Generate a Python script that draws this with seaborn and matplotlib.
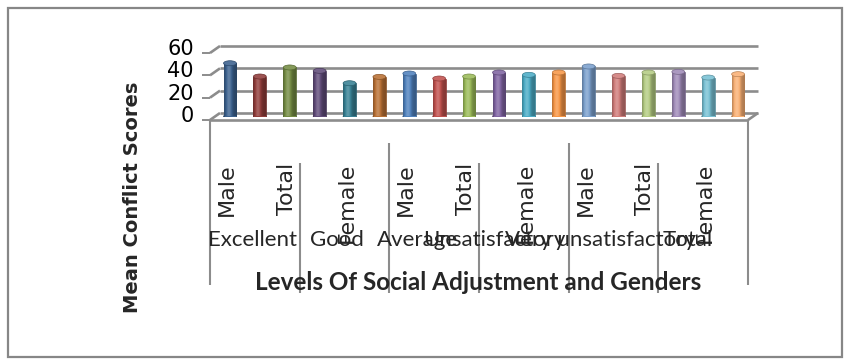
import numpy as np
import pandas as pd
import matplotlib
matplotlib.use("Agg")
import matplotlib.pyplot as plt
import matplotlib.colors as mcolors
import seaborn as sns
from matplotlib.lines import Line2D
from matplotlib.patches import Ellipse, Rectangle
from matplotlib.transforms import IdentityTransform

# ---- data -------------------------------------------------------------
levels = ["Excellent", "Good", "Average", "Unsatisfactory",
          "Very unsatisfactory", "Total"]
genders = ["Male", "Female", "Total"]
scores = [47.7, 35.8, 43.9,
          40.9, 29.8, 35.5,
          38.5, 34.0, 35.8,
          39.4, 37.3, 39.4,
          44.8, 36.4, 39.4,
          40.0, 34.9, 37.9]
y_ticks = [0, 20, 40, 60]
bar_colors = ["#3B618E", "#903C3A", "#748C43", "#604B79", "#388194", "#B97034",
              "#4F81BD", "#C0504D", "#9BBB59", "#8064A2", "#4BACC6", "#F79646",
              "#7BA0CD", "#D07C7A", "#B4CC83", "#A08BB9", "#78C1D4", "#F9B074"]

slots = [f"{lv} | {g}" for lv in levels for g in genders]
df = pd.DataFrame({"slot": slots, "score": scores})

# ---- figure -----------------------------------------------------------
sns.set_theme(style="white")
plt.rcParams["font.family"] = ["Lato", "DejaVu Sans"]
WIDE = ["DejaVu Sans"]

W, H = 854, 364
fig = plt.figure(figsize=(W / 100, H / 100), dpi=100)
fig.patch.set_facecolor("white")

# axes placed at the mid depth of the pseudo-3D box (pixel rows from top)
x_left, x_right = 215, 753
y_base, y_top = 116.5, 49.5
ax = fig.add_axes([x_left / W, (H - y_base) / H,
                   (x_right - x_left) / W, (y_base - y_top) / H])

sns.barplot(data=df, x="slot", y="score", hue="slot",
            palette=dict(zip(slots, bar_colors)), width=0.43,
            legend=False, ax=ax, saturation=1)
ax.set_axis_off()
n = len(slots)
ax.set_xlim(-0.5, n - 0.5)
ax.set_ylim(0, 60)

GRID = "#8C8C8C"
DX, DY = 5, 3.5          # half of the box depth, in pixels


def pt(x, v, k):
    """Display point for data (x, v) at depth k (-1 front, 0 mid, 1 back)."""
    X, Y = ax.transData.transform((x, v))
    return X + k * DX, Y + k * DY


def line(p, q, lw=1.9, color=GRID, z=-1):
    fig.add_artist(Line2D([p[0], q[0]], [p[1], q[1]], lw=lw, color=color,
                          transform=IdentityTransform(), zorder=z,
                          solid_capstyle="butt"))


def row(py):
    return H - py


# walls: gridlines on back wall, diagonals on side wall, y ticks in front
for v in y_ticks:
    line(pt(-0.5, v, 1), pt(n - 0.5, v, 1))
    line(pt(-0.5, v, -1), pt(-0.5, v, 1))
    fx, fyy = pt(-0.5, v, -1)
    line((fx - 8, fyy), (fx, fyy), lw=1.4)
    fig.text(fx - 16, fyy + 4, f"{v}", ha="right", va="center",
             fontsize=15, color="black", family=WIDE,
             transform=IdentityTransform())

# floor edges
line(pt(-0.5, 0, -1), pt(n - 0.5, 0, -1))
line(pt(n - 0.5, 0, -1), pt(n - 0.5, 0, 1))

# cylinders: shaded body, rounded bottom and elliptical cap
t = np.linspace(0, 1, 64)
prof = 0.70 + 0.55 * np.exp(-((t - 0.38) / 0.26) ** 2)


def tone(rgb, f):
    rgb = np.asarray(rgb[:3])
    if f <= 1:
        return rgb * f
    return rgb + (1 - rgb) * min(f - 1, 1) * 0.8


cap_h = 4.5
for p in list(ax.patches):
    base = mcolors.to_rgb(p.get_facecolor())
    x, w, h = p.get_x(), p.get_width(), p.get_height()
    xc = x + w / 2
    grad = np.array([[tone(base, f) for f in prof]])
    p.set_edgecolor(tone(base, 0.7))
    p.set_linewidth(0.5)
    ax.add_patch(Ellipse((xc, 0), w, cap_h, facecolor=tone(base, 0.85),
                         edgecolor=tone(base, 0.7), lw=0.5,
                         zorder=p.get_zorder() - 0.1))
    im = ax.imshow(grad, extent=[x, x + w, 0, h], aspect="auto",
                   interpolation="bilinear", zorder=p.get_zorder() + 0.1)
    im.set_clip_path(p)
    ax.add_patch(Ellipse((xc, h), w, cap_h, facecolor=tone(base, 1.15),
                         edgecolor=tone(base, 0.75), lw=0.5,
                         zorder=p.get_zorder() + 0.2))
ax.set_xlim(-0.5, n - 0.5)
ax.set_ylim(0, 60)

# category axis: group separators, inner and outer labels
sep_span = {0: (120, 285), 3: (163, 293), 6: (143, 293), 9: (163, 293),
            12: (143, 293), 15: (163, 293), 18: (120, 285)}
for b, (top, bot) in sep_span.items():
    sx, _ = pt(b - 0.5, 0, -1)
    line((sx, row(top)), (sx, row(bot)), lw=1.5, z=1)

for i in range(0, n, 2):
    cx, _ = pt(i, 0, -1)
    fig.text(cx + 2, row(163), genders[i % 3], rotation=90,
             ha="center", va="top", fontsize=16, family=WIDE,
             transform=IdentityTransform())

outer_left = [208, 310, 377, 423, 505, 663]
for lv, lx in zip(levels, outer_left):
    fig.text(lx, row(240), lv, ha="left", va="center", fontsize=16,
             transform=IdentityTransform())

fig.text(478, row(282), "Levels Of Social Adjustment and Genders",
         ha="center", va="center", fontsize=17.5, fontweight="bold",
         transform=IdentityTransform())
fig.text(133, row(197), "Mean Conflict Scores", rotation=90,
         ha="center", va="center", fontsize=14, fontweight="bold",
         family=WIDE, transform=IdentityTransform())

# chart area border
fig.add_artist(Rectangle((8, row(357)), 834, 349, fill=False,
                         edgecolor="#878787", lw=1.6,
                         transform=IdentityTransform(), zorder=3))

fig.savefig("out.png", dpi=100, facecolor="white")
